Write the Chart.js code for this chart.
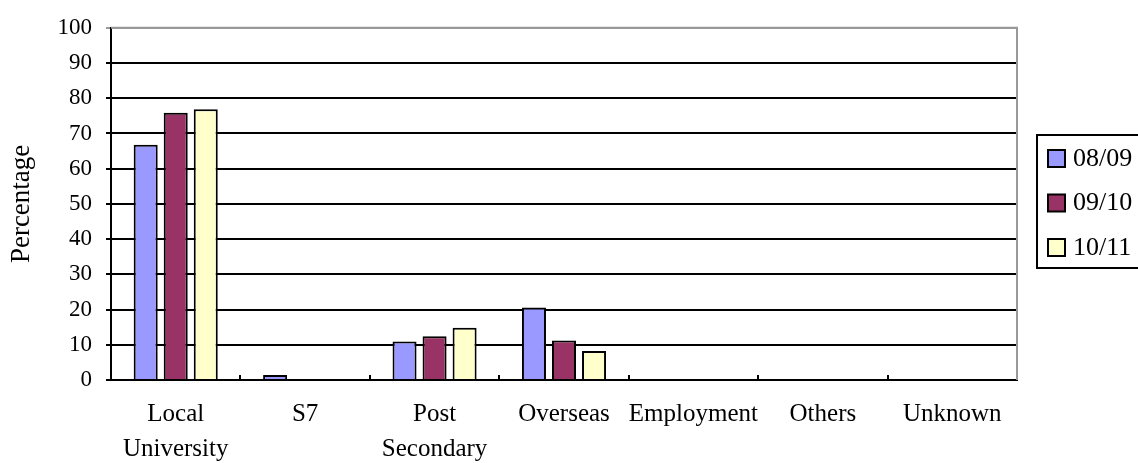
<!DOCTYPE html>
<html>
<head>
<meta charset="utf-8">
<script src="https://cdn.jsdelivr.net/npm/chart.js@4/dist/chart.umd.min.js"></script>
<style>
  html, body { margin: 0; padding: 0; background: #fff; overflow: hidden; }
  #wrap { width: 1138px; height: 463px; }
</style>
</head>
<body>
<div id="wrap"><canvas id="c" width="1138" height="463"></canvas></div>
<script>
// Destinations of graduates, percentage per school year
const categories = [["Local", "University"], "S7", ["Post", "Secondary"], "Overseas", "Employment", "Others", "Unknown"];
const years = ["08/09", "09/10", "10/11"];
const share0809 = [66.8, 1.4, 10.9, 20.6, 0, 0, 0];
const share0910 = [75.9, 0, 12.4, 11.2, 0, 0, 0];
const share1011 = [76.9, 0, 14.8, 8.2, 0, 0, 0];
const yTicks = [0, 10, 20, 30, 40, 50, 60, 70, 80, 90, 100];
const yearColors = ["#9999FF", "#993366", "#FFFFCC"];

const FONT = "'Liberation Serif', 'Times New Roman', serif";

// Grey frame on the top and right sides of the plot area
const framePlugin = {
  id: "frame",
  beforeDatasetsDraw(chart) {
    const { ctx, chartArea: a } = chart;
    ctx.save();
    ctx.strokeStyle = "#999999";
    ctx.lineWidth = 2;
    ctx.beginPath();
    ctx.moveTo(a.left, a.top);
    ctx.lineTo(a.right, a.top);
    ctx.lineTo(a.right, a.bottom);
    ctx.stroke();
    ctx.restore();
  }
};

// Boxed legend to the right of the plot
const boxLegend = {
  id: "boxLegend",
  afterDraw(chart) {
    const { ctx, chartArea: a } = chart;
    const left = a.right + 20;
    const top = 135;
    const rowH = 44.5;
    ctx.save();
    ctx.strokeStyle = "#000";
    ctx.lineWidth = 2;
    ctx.strokeRect(left, top, 200, 133);
    ctx.font = "26px " + FONT;
    ctx.textBaseline = "middle";
    chart.data.datasets.forEach((ds, i) => {
      const cy = top + 23 + i * rowH;
      ctx.fillStyle = ds.backgroundColor;
      ctx.fillRect(left + 11, cy - 8, 17, 17);
      ctx.strokeStyle = "#000";
      ctx.lineWidth = 2;
      ctx.strokeRect(left + 11, cy - 8, 17, 17);
      ctx.fillStyle = "#000";
      ctx.fillText(ds.label, left + 36, cy + 1);
    });
    ctx.restore();
  }
};

const seriesValues = [share0809, share0910, share1011];

new Chart(document.getElementById("c"), {
  type: "bar",
  data: {
    labels: categories,
    datasets: years.map((y, i) => ({
      label: y,
      data: seriesValues[i],
      backgroundColor: yearColors[i],
      borderColor: "#000",
      borderWidth: 2,
      borderSkipped: "start",
      categoryPercentage: 0.696,
      barPercentage: 0.8
    }))
  },
  options: {
    responsive: false,
    animation: false,
    layout: { autoPadding: false, padding: { left: 0, top: 24, right: 121, bottom: 0 } },
    plugins: { legend: { display: false }, tooltip: { enabled: false } },
    scales: {
      x: {
        afterFit(s) { s.height = 83; },
        grid: { offset: true, drawOnChartArea: false, drawTicks: true, tickLength: -5, color: "#000", lineWidth: 2 },
        border: { display: true, color: "#000", width: 2 },
        ticks: { color: "#000", font: { family: FONT, size: 25, lineHeight: 1.4 }, padding: 22, maxRotation: 0, autoSkip: false }
      },
      y: {
        min: 0,
        max: 100,
        afterFit(s) { s.width = 111; },
        afterBuildTicks(s) { s.ticks = yTicks.map(v => ({ value: v })); },
        grid: {
          color: ctx => (ctx.tick && ctx.tick.value === 100 ? "#999999" : "#000"),
          lineWidth: 2,
          drawTicks: true,
          tickLength: 5
        },
        border: { display: true, color: "#000", width: 2 },
        ticks: { color: "#000", font: { family: FONT, size: 23 }, padding: 14 },
        title: { display: true, text: "Percentage", color: "#000", font: { family: FONT, size: 27 }, padding: { top: 6, bottom: 0 } }
      }
    }
  },
  plugins: [framePlugin, boxLegend]
});
</script>
</body>
</html>
